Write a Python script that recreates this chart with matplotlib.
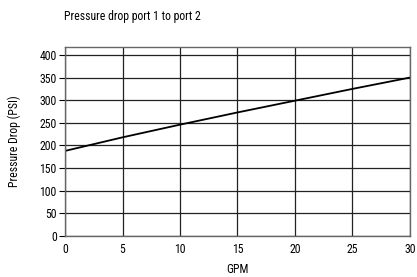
import matplotlib.pyplot as plt

plt.rcParams['font.family'] = ['Roboto Condensed', 'DejaVu Sans']

gpm = [0, 5, 10, 15, 20, 25, 30]
psi = [188, 218, 246, 273, 299, 325, 350]
x_ticks = [0, 5, 10, 15, 20, 25, 30]
y_ticks = [0, 50, 100, 150, 200, 250, 300, 350, 400]

fig = plt.figure(figsize=(4.17, 2.77), dpi=100)
ax = fig.add_axes([0.156, 0.148, 0.827, 0.683])
ax.plot(gpm, psi, color='black', lw=1.3)
ax.set_xlim(0, 30)
ax.set_ylim(0, 418)
ax.set_xticks(x_ticks)
ax.set_yticks(y_ticks)
ax.grid(True, color='#222222', lw=0.9)
for s in ax.spines.values():
    s.set_color('#666666')
    s.set_linewidth(1)
ax.tick_params(axis='y', length=4, width=0.8, labelsize=8.5, pad=2)
ax.tick_params(axis='x', length=0, labelsize=8.5, pad=5)
ax.set_xlabel('GPM', fontsize=8.5, labelpad=5)
ax.set_ylabel('Pressure Drop (PSI)', fontsize=8.5, labelpad=13)
fig.text(0.153, 0.94, 'Pressure drop port 1 to port 2', fontsize=8.5, ha='left', va='center')
fig.savefig('out.png', dpi=100)
